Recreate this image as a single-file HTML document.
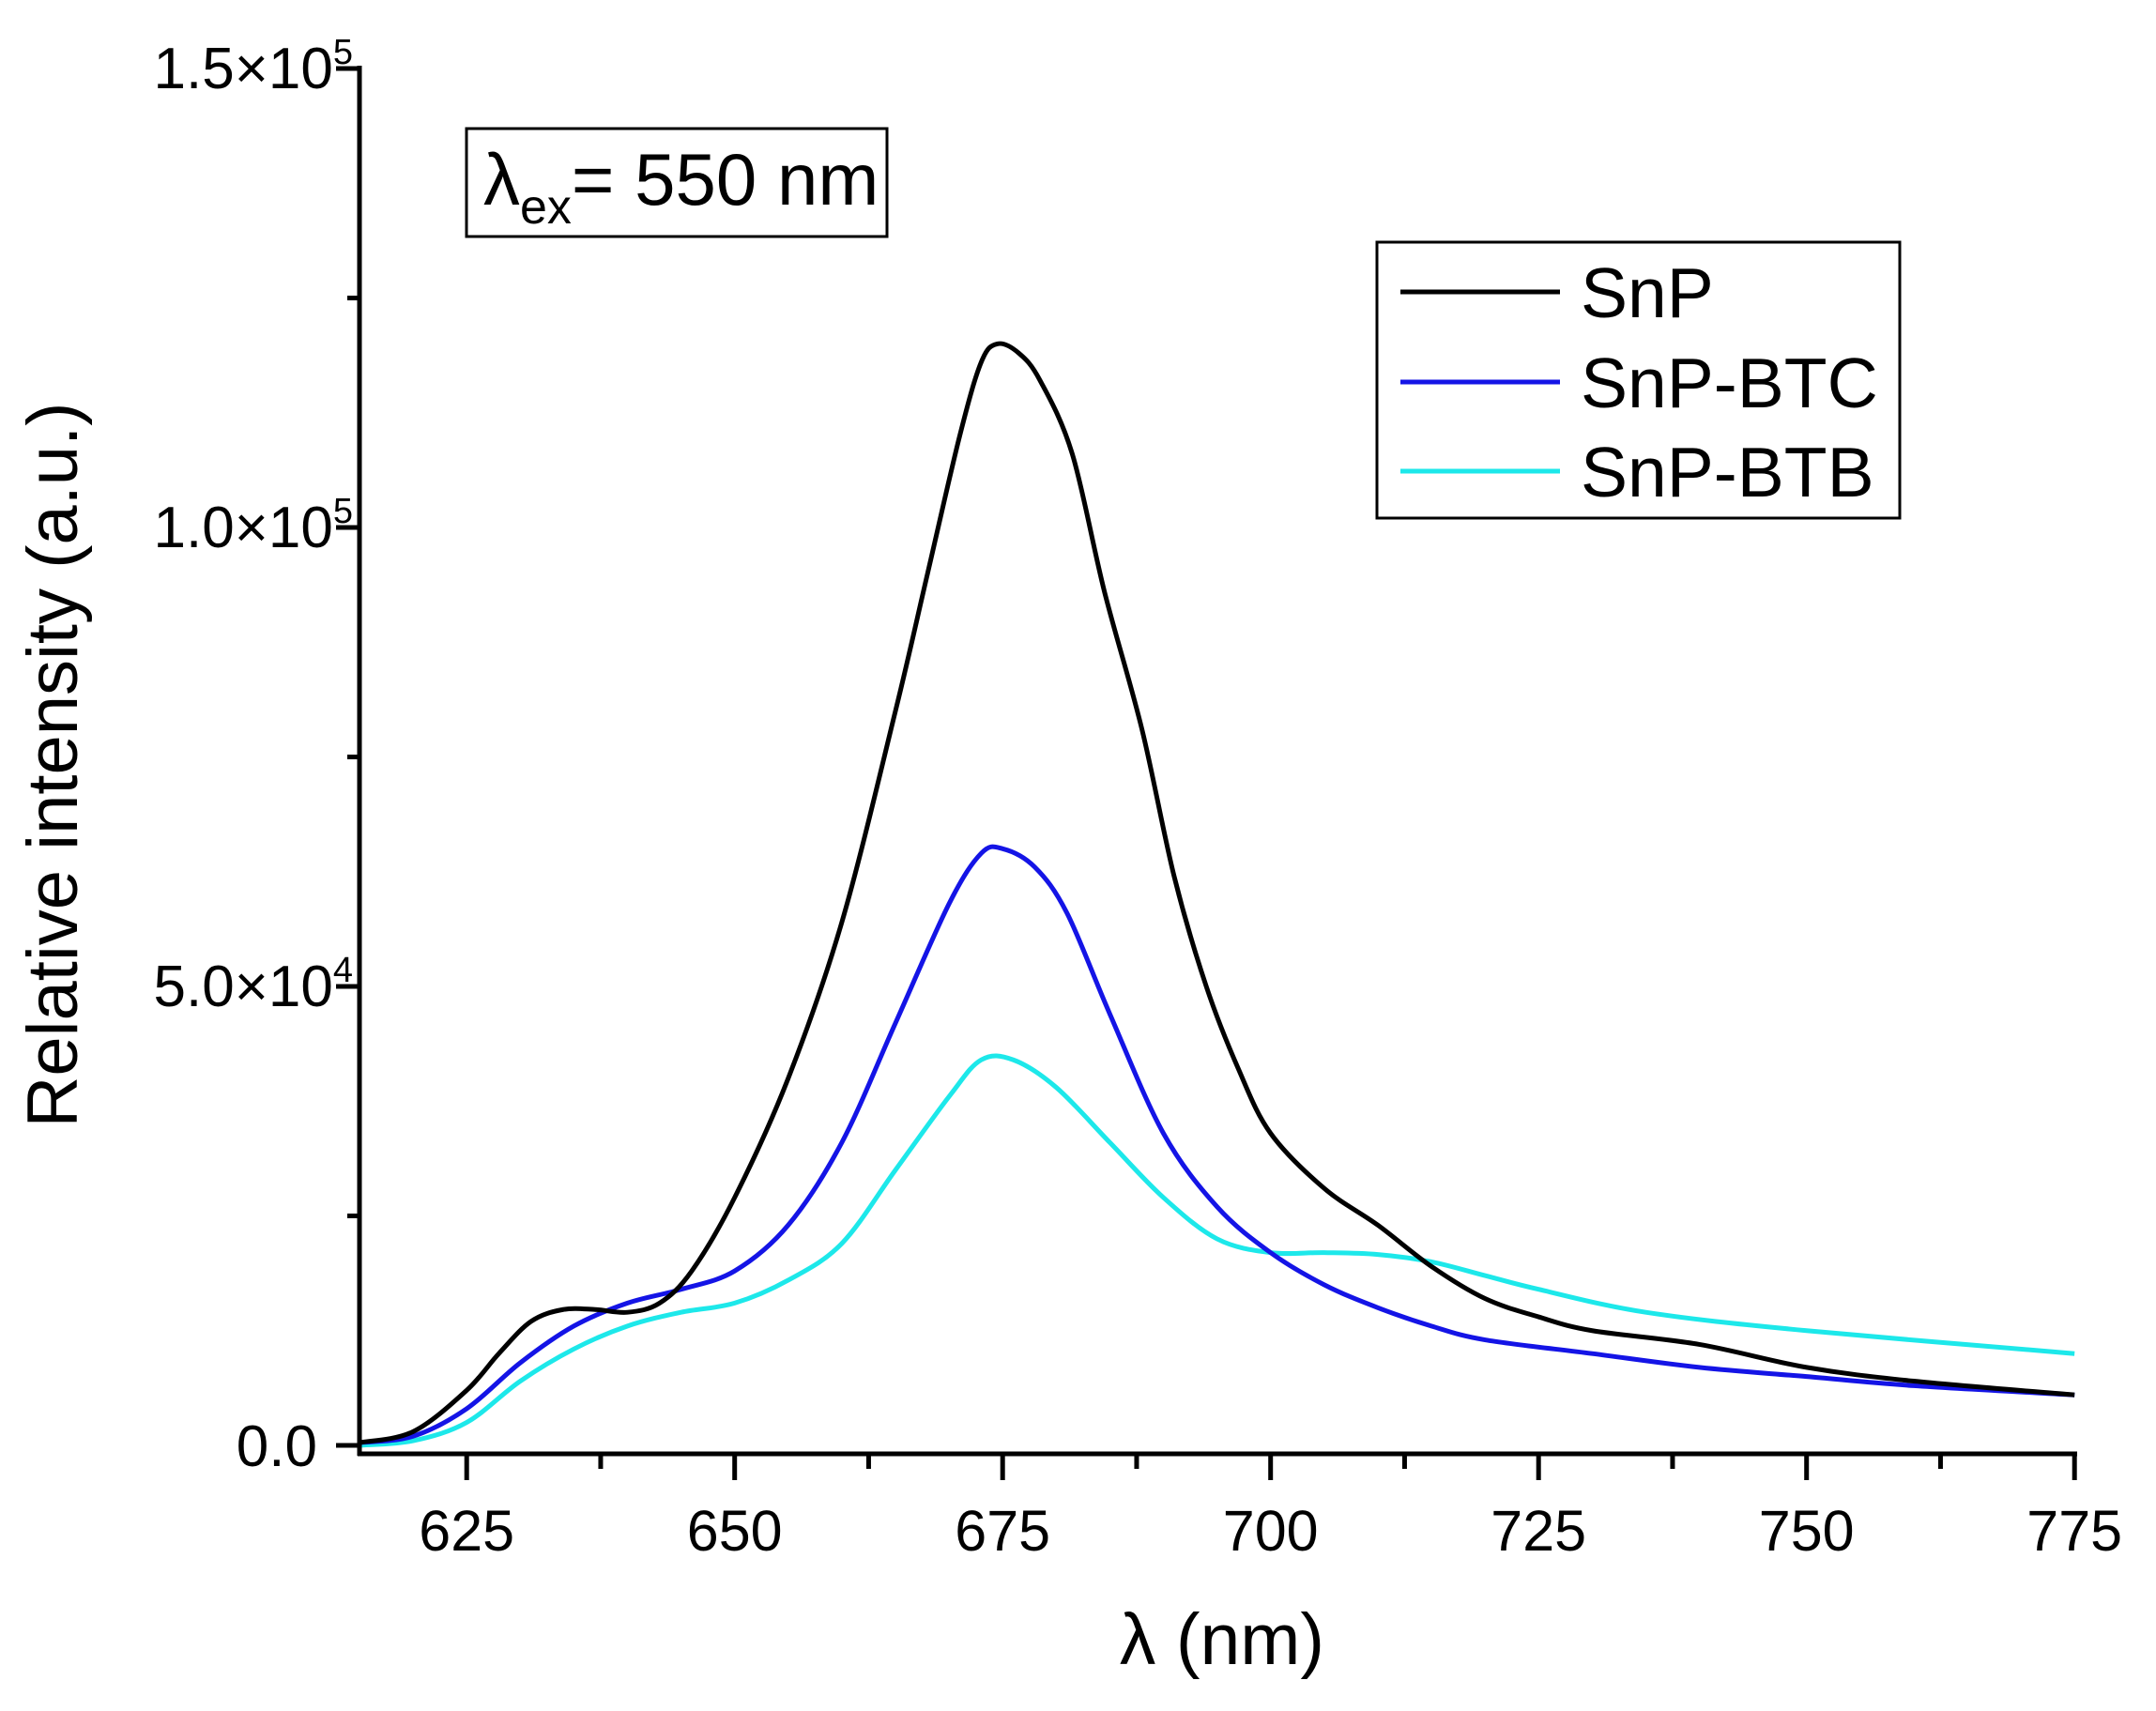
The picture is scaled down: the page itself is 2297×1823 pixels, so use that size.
<!DOCTYPE html>
<html><head><meta charset="utf-8"><style>
html,body{margin:0;padding:0;background:#fff;}
svg{display:block;font-family:"Liberation Sans",Arial,sans-serif;}
</style></head><body>
<svg id="s" width="2297" height="1823" viewBox="0 0 2297 1823" xmlns="http://www.w3.org/2000/svg">
<g id="curves" fill="none" stroke-width="5" stroke-linejoin="round"></g>
<g stroke="#000" stroke-width="5" fill="none">
<line x1="383" y1="70" x2="383" y2="1551"/>
<line x1="381" y1="1549" x2="2213" y2="1549"/>
<g id="ticks"></g>
</g>
<g font-size="62" fill="#000" text-anchor="end">
<text x="376" y="94">1.5×10<tspan dy="-26" font-size="38">5</tspan></text>
<text x="376" y="583">1.0×10<tspan dy="-26" font-size="38">5</tspan></text>
<text x="376" y="1072">5.0×10<tspan dy="-26" font-size="38">4</tspan></text>
<text x="338" y="1562">0.0</text>
</g>
<g font-size="61" fill="#000" text-anchor="middle" id="xl"></g>
<text x="1302" y="1773" font-size="77" text-anchor="middle">λ (nm)</text>
<text transform="translate(82,815) rotate(-90)" font-size="76" text-anchor="middle">Relative intensity (a.u.)</text>
<rect x="497" y="137" width="448" height="115" fill="none" stroke="#000" stroke-width="3"/>
<text x="515" y="218" font-size="78">λ<tspan dy="20" font-size="52">ex</tspan><tspan dy="-20">= 550 nm</tspan></text>
<rect x="1467" y="258" width="557" height="294" fill="none" stroke="#000" stroke-width="3"/>
<line x1="1492" y1="311" x2="1662" y2="311" stroke="#000" stroke-width="5"/>
<line x1="1492" y1="407" x2="1662" y2="407" stroke="#1414e6" stroke-width="5"/>
<line x1="1492" y1="502" x2="1662" y2="502" stroke="#1de8ea" stroke-width="5"/>
<g font-size="75" fill="#000">
<text x="1684" y="338">SnP</text>
<text x="1684" y="434">SnP-BTC</text>
<text x="1684" y="529">SnP-BTB</text>
</g>
</svg>
<script>
var X=function(n){return 383+(n-615)*11.42},Y=function(v){return 1540-v*9.78};
var ns="http://www.w3.org/2000/svg";
var t=document.getElementById('ticks'),xl=document.getElementById('xl');
function ln(p,x1,y1,x2,y2){var l=document.createElementNS(ns,'line');l.setAttribute('x1',x1);l.setAttribute('y1',y1);l.setAttribute('x2',x2);l.setAttribute('y2',y2);p.appendChild(l);}
for(var n=625;n<=775;n+=12.5){var maj=(n-625)%25==0;ln(t,X(n),1549,X(n),maj?1577:1565);
 if(maj){var tx=document.createElementNS(ns,'text');tx.setAttribute('x',X(n));tx.setAttribute('y',1652);tx.textContent=n;xl.appendChild(tx);}}
for(var v=0;v<=150;v+=25){var maj=v%50==0;ln(t,maj?358:370,Y(v),383,Y(v));}
var D={
"#000":[[615,.3],[620,1.5],[625,6],[628,10],[631,13.5],[634,14.8],[637,14.8],[640,14.5],[643,15.5],[646,19],[650,27],[655,40],[660,57],[665,80],[668,95],[671,110],[673,118],[674.5,120],[676.5,119],[678.5,116],[681.5,108],[684.5,93],[688,78],[691,62],[694,50],[697,41],[700,34],[705,28],[710,24],[715,19.5],[720,16],[725,14],[730,12.5],[740,11],[750,8.5],[760,7],[775,5.5]],
"#1414e6":[[615,.3],[620,1],[625,4],[630,9],[635,13],[640,15.5],[645,17],[650,19],[655,24],[660,33],[665,46],[670,59],[673,64.5],[675,65],[678,63],[681,58],[685,47],[690,34],[695,26],[700,21],[705,17.5],[710,15],[715,13],[720,11.5],[730,10],[740,8.5],[750,7.5],[760,6.5],[775,5.5]],
"#1de8ea":[[615,0],[620,.5],[625,2.5],[630,7],[635,10.5],[640,13],[645,14.5],[650,15.5],[655,18],[660,22],[665,30],[670,38],[673,42],[676,42],[680,39],[685,33],[690,27],[695,22.5],[700,21],[705,21],[710,20.8],[715,20],[720,18.5],[725,17],[735,14.5],[750,12.5],[775,10]]};
var g=document.getElementById('curves');
["#1de8ea","#1414e6","#000"].forEach(function(c){var p=D[c].map(function(a){return[X(a[0]),Y(a[1])]});
 var d='M'+p[0][0]+','+p[0][1];
 for(var i=0;i<p.length-1;i++){var p0=p[i-1]||p[i],p1=p[i],p2=p[i+1],p3=p[i+2]||p2;
  d+=' C'+(p1[0]+(p2[0]-p0[0])/6)+','+(p1[1]+(p2[1]-p0[1])/6)+' '+(p2[0]-(p3[0]-p1[0])/6)+','+(p2[1]-(p3[1]-p1[1])/6)+' '+p2[0]+','+p2[1];}
 var e=document.createElementNS(ns,'path');e.setAttribute('d',d);e.setAttribute('stroke',c);g.appendChild(e);});
</script>
</body></html>
